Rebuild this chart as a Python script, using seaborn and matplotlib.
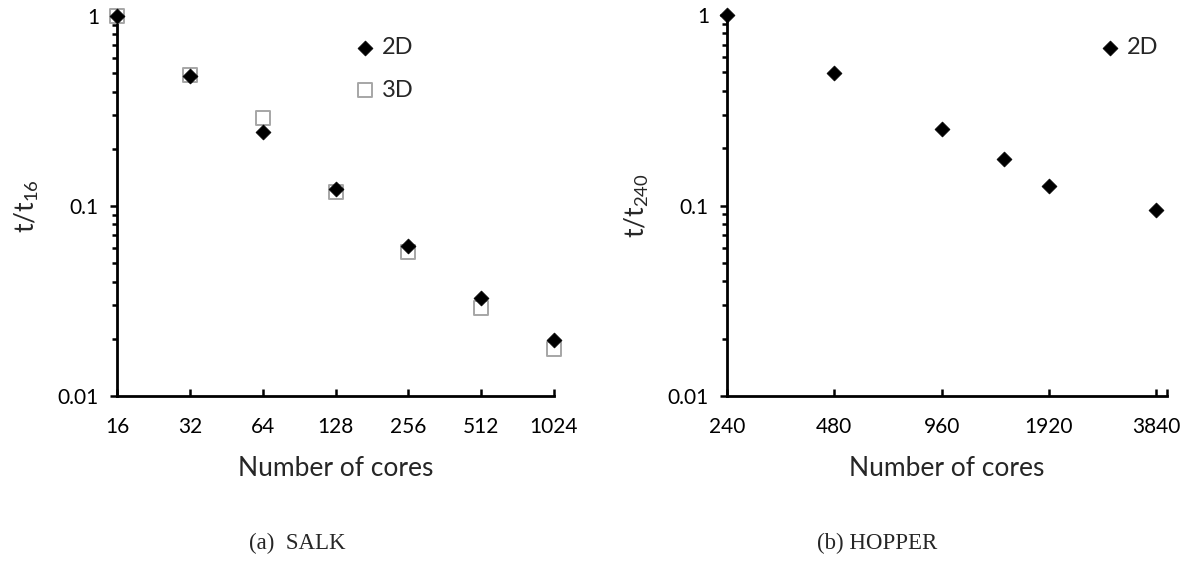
import matplotlib
matplotlib.use("Agg")
import matplotlib.pyplot as plt
import matplotlib.ticker as mticker
import seaborn as sns
import pandas as pd

# SALK scaling (normalised to 16 cores)
salk_cores = [16, 32, 64, 128, 256, 512, 1024]
salk_2d = [1.0, 0.486, 0.245, 0.123, 0.0618, 0.0326, 0.0197]
salk_3d = [1.0, 0.490, 0.291, 0.118, 0.057, 0.0289, 0.0176]

# HOPPER scaling (normalised to 240 cores)
hopper_cores = [240, 480, 960, 1440, 1920, 3840]
hopper_2d = [1.0, 0.497, 0.252, 0.175, 0.127, 0.0946]

salk_ticks = [16, 32, 64, 128, 256, 512, 1024]
hopper_ticks = [240, 480, 960, 1920, 3840]
y_ticks = [0.01, 0.1, 1]

sns.set_style("white")
plt.rcParams["font.family"] = ["Lato", "DejaVu Sans"]
plt.rcParams["mathtext.fontset"] = "custom"
plt.rcParams["mathtext.rm"] = "Lato"
plt.rcParams["mathtext.it"] = "Lato"

salk = pd.concat([
    pd.DataFrame({"cores": salk_cores, "ratio": salk_2d, "case": "2D"}),
    pd.DataFrame({"cores": salk_cores, "ratio": salk_3d, "case": "3D"}),
])
hopper = pd.DataFrame({"cores": hopper_cores, "ratio": hopper_2d, "case": "2D"})

fig = plt.figure(figsize=(11.85, 5.74), dpi=100)
W, H = 1185, 574
ax1 = fig.add_axes([117 / W, 1 - 396 / H, (554 - 117) / W, (396 - 16) / H])
ax2 = fig.add_axes([727 / W, 1 - 396 / H, (1167 - 727) / W, (396 - 15) / H])

dark = "#000000"
edge_gray = "#a6a6a6"

# 3D squares underneath, 2D diamonds on top
sns.scatterplot(data=salk[salk.case == "3D"], x="cores", y="ratio", ax=ax1,
                marker="s", s=95, facecolor="white", edgecolor=edge_gray,
                linewidth=1.4, label="3D", zorder=3, clip_on=False)
sns.scatterplot(data=salk[salk.case == "2D"], x="cores", y="ratio", ax=ax1,
                marker="D", s=58, color=dark, edgecolor=dark, linewidth=0.5,
                label="2D", zorder=4, clip_on=False)
sns.scatterplot(data=hopper, x="cores", y="ratio", ax=ax2,
                marker="D", s=58, color=dark, edgecolor=dark, linewidth=0.5,
                label="2D", zorder=4, clip_on=False)


def style_axis(ax, xmin, xmax, xticks, ylabel):
    ax.set_xscale("log", base=2)
    ax.set_yscale("log")
    ax.set_xlim(xmin, xmax)
    ax.set_ylim(0.01, 1)
    for s in ["top", "right"]:
        ax.spines[s].set_visible(False)
    for s in ["left", "bottom"]:
        ax.spines[s].set_linewidth(2.0)
        ax.spines[s].set_color("black")
    ticks = list(xticks)
    labels = [str(t) for t in xticks]
    if xmax > xticks[-1] * 1.01:
        ticks.append(xmax)
        labels.append("")
    ax.xaxis.set_major_locator(mticker.FixedLocator(ticks))
    ax.xaxis.set_major_formatter(mticker.FixedFormatter(labels))
    ax.xaxis.set_minor_locator(mticker.NullLocator())
    ax.yaxis.set_major_locator(mticker.FixedLocator(y_ticks))
    ax.yaxis.set_major_formatter(mticker.FixedFormatter(["0.01", "0.1", "1"]))
    ax.yaxis.set_minor_locator(mticker.LogLocator(base=10, subs=range(2, 10)))
    ax.yaxis.set_minor_formatter(mticker.NullFormatter())
    ax.tick_params(axis="x", which="major", direction="in", length=5,
                   width=1.8, pad=15, labelsize=15, colors="black", bottom=True)
    ax.tick_params(axis="y", which="major", direction="out", length=5,
                   width=1.8, pad=8, labelsize=15, colors="black", left=True)
    ax.tick_params(axis="y", which="minor", direction="out", length=3.3,
                   width=1.8, left=True, colors="black")
    ax.set_xlabel("Number of cores", fontsize=19, labelpad=14)
    ax.set_ylabel(ylabel, fontsize=19, labelpad=12)


style_axis(ax1, 16, 1024, salk_ticks, r"$\mathregular{t/t_{16}}$")
style_axis(ax2, 240, 240 * 2 ** 4.1, hopper_ticks, r"$\mathregular{t/t_{240}}$")

leg_kw = dict(loc="upper left", frameon=False, fontsize=17, handletextpad=0.15,
              labelspacing=0.9, handlelength=1.2, borderaxespad=0)
handles, labels = ax1.get_legend_handles_labels()
order = [labels.index("2D"), labels.index("3D")]
ax1.legend([handles[i] for i in order], [labels[i] for i in order],
           bbox_to_anchor=((341 - 117) / (554 - 117), 1 - 12 / 380), **leg_kw)
ax2.legend(bbox_to_anchor=((1086 - 727) / (1167 - 727), 1 - 13 / 381), **leg_kw)

fig.text(297 / W, 1 - 543 / H, "(a)  SALK", ha="center", va="center",
         fontsize=16.5, family=["Liberation Serif"])
fig.text(877 / W, 1 - 543 / H, "(b) HOPPER", ha="center", va="center",
         fontsize=16.5, family=["Liberation Serif"])

fig.savefig("out.png", dpi=100, facecolor="white")
